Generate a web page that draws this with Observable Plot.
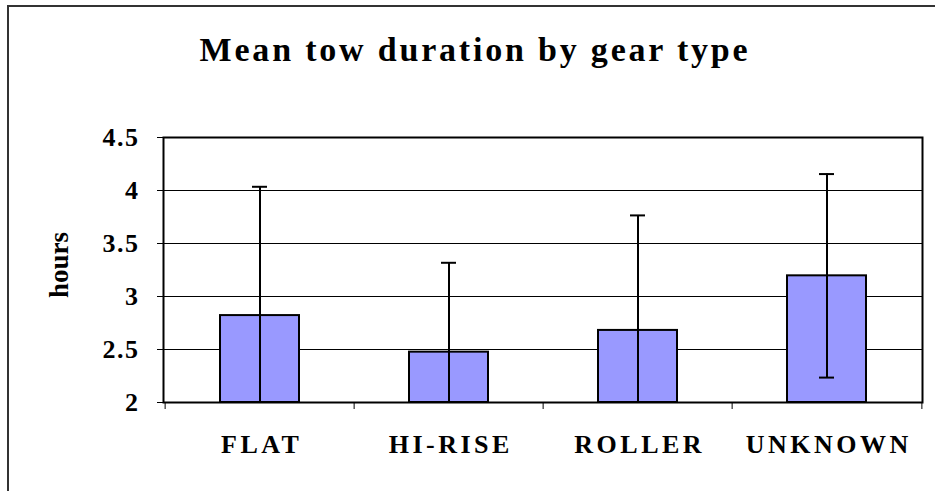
<!DOCTYPE html>
<html><head><meta charset="utf-8">
<script src="https://cdn.jsdelivr.net/npm/d3@7"></script>
<script src="https://cdn.jsdelivr.net/npm/@observablehq/plot@0.6"></script>
<style>
body{margin:0;background:#fff;}
#wrap{position:relative;width:935px;height:491px;overflow:hidden;background:#fff;}
#border{position:absolute;left:7px;top:5px;width:1000px;height:1000px;border-left:2px solid #333;border-top:2px solid #333;}
#chart{position:absolute;left:0;top:0;}
</style></head><body><div id="wrap"><div id="border"></div><div id="chart"></div></div>
<script>
const gears = ["FLAT", "HI-RISE", "ROLLER", "UNKNOWN"];
const means = [2.82, 2.475, 2.68, 3.195];
const sds = [1.215, 0.843, 1.085, 0.96];
const yTicks = [2, 2.5, 3, 3.5, 4, 4.5];
const yTickLabels = ["2", "2.5", "3", "3.5", "4", "4.5"];
const titleText = "Mean tow duration by gear type";
const yLabel = "hours";

const W = 935, H = 491, mL = 163, mR = 13, mT = 137, mB = 89;
const bw = (W - mL - mR) / gears.length;
const yMin = yTicks[0];

const data = gears.map((g, i) => ({
  gear: g, mean: means[i],
  hi: means[i] + sds[i],
  lo: Math.max(yMin, means[i] - sds[i]),
  loRaw: means[i] - sds[i]
}));

const font = "'Liberation Serif','Times New Roman',serif";

const plot = Plot.plot({
  width: W, height: H,
  marginLeft: mL, marginRight: mR, marginTop: mT, marginBottom: mB,
  style: {fontFamily: font, background: "transparent", overflow: "visible", color: "#000"},
  x: {domain: gears, padding: 0, axis: null},
  y: {domain: [yTicks[0], yTicks[yTicks.length - 1]], axis: null},
  marks: [
    Plot.ruleY(yTicks, {stroke: "#000", strokeWidth: 1}),
    Plot.barY(data, {x: "gear", y1: yMin, y2: "mean", fill: "#9999FF", stroke: "#000", strokeWidth: 2, insetLeft: 55, insetRight: 55}),
    Plot.ruleX(data, {x: "gear", y1: "lo", y2: "hi", stroke: "#000", strokeWidth: 2}),
    Plot.tickY(data, {x: "gear", y: "hi", stroke: "#000", strokeWidth: 2, insetLeft: 87, insetRight: 87}),
    Plot.tickY(data.filter(d => d.loRaw >= yMin), {x: "gear", y: "loRaw", stroke: "#000", strokeWidth: 2, insetLeft: 87, insetRight: 87}),
    Plot.frame({stroke: "#000", strokeWidth: 2}),
    Plot.axisY(yTicks, {tickSize: 6, tickPadding: 18, fontSize: 26, fontWeight: "bold", fill: "#000", label: null,
      tickFormat: d => yTickLabels[yTicks.indexOf(d)]}),
    Plot.axisX(gears, {tickSize: 7, tickFormat: () => "", label: null, dx: -bw / 2}),
    Plot.axisX([gears[gears.length - 1]], {tickSize: 7, tickFormat: () => "", label: null, dx: bw / 2}),
    Plot.axisX(gears, {tickSize: 0, tickPadding: 32, fontSize: 26, fontWeight: "bold", fill: "#000", label: null, dx: 1.75}),
    Plot.text([titleText], {frameAnchor: "top", textAnchor: "middle", lineAnchor: "middle", dx: -68, dy: -87.5, fontSize: 34, fontWeight: "bold", fill: "#000"}),
    Plot.text([yLabel], {frameAnchor: "left", textAnchor: "middle", lineAnchor: "middle", dx: -104.5, dy: -5, rotate: -90, fontSize: 27, fontWeight: "bold", fill: "#000"})
  ]
});

const svg = d3.select(plot);
svg.selectAll('g[aria-label="x-axis tick label"]').attr("letter-spacing", "3.5px");
svg.selectAll('g[aria-label="y-axis tick label"]').attr("letter-spacing", "1.5px");
svg.selectAll("text").each(function () {
  const t = this.textContent;
  if (t === titleText) d3.select(this).attr("letter-spacing", "2.8px");
});
document.getElementById("chart").appendChild(plot);
</script>
</body></html>
